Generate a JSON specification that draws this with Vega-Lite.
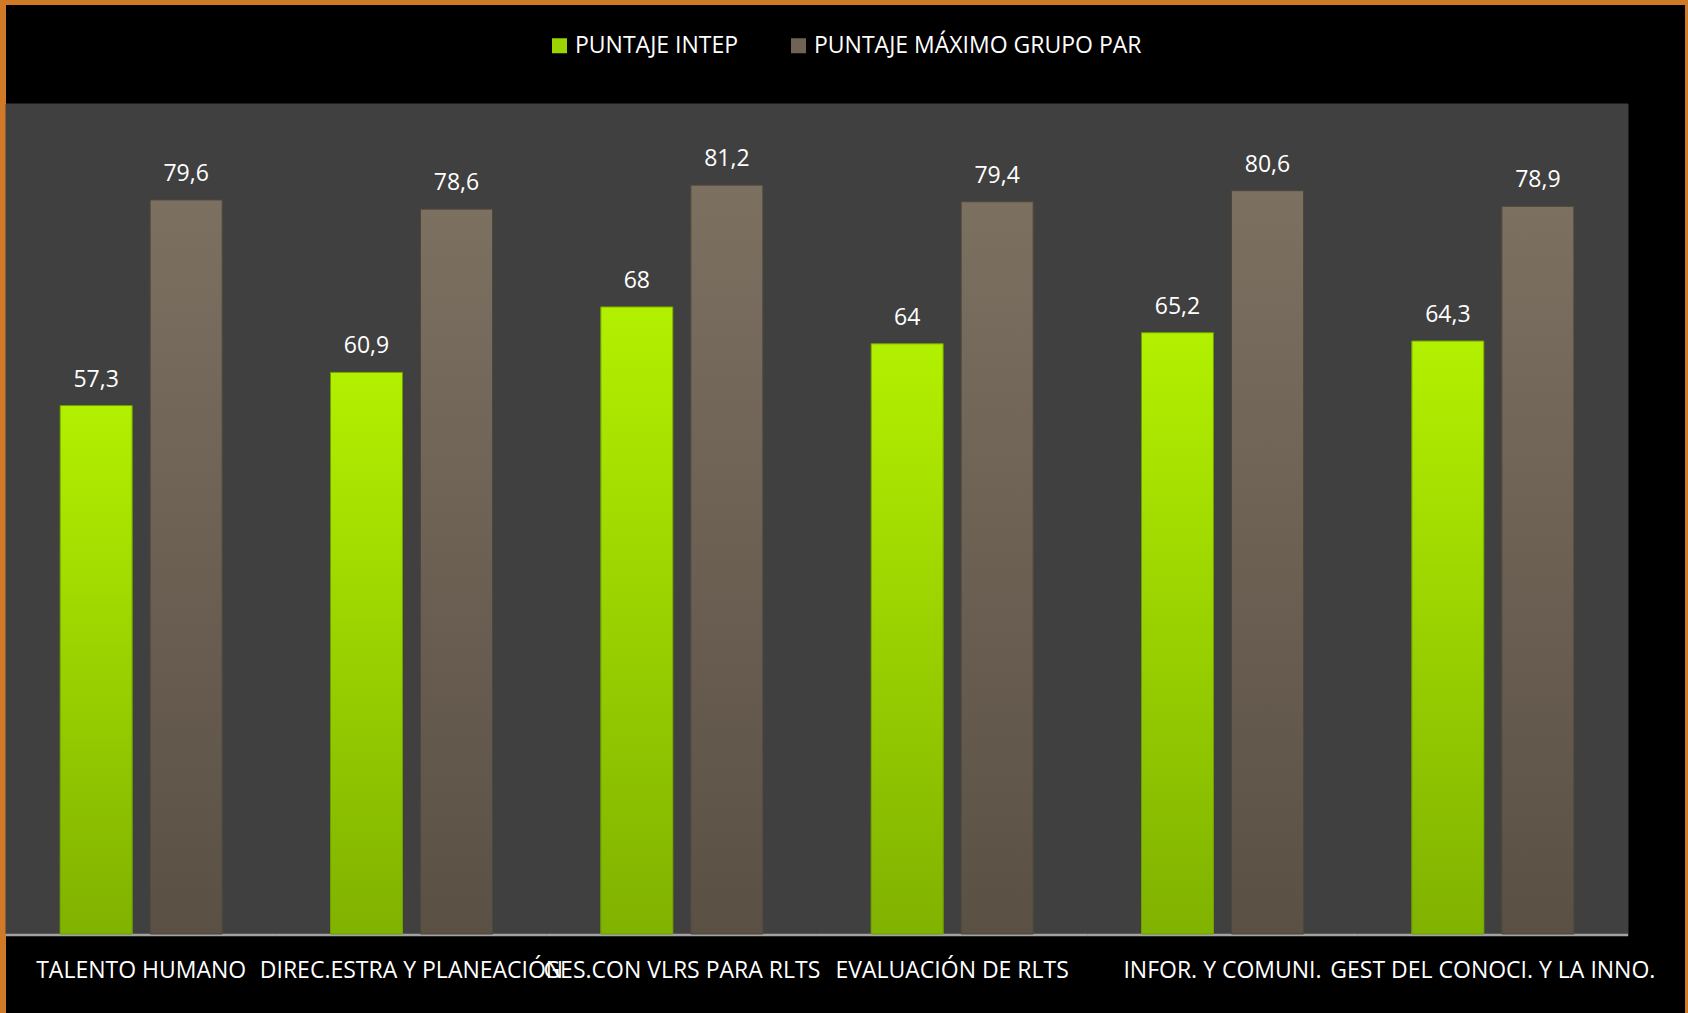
{
  "$schema": "https://vega.github.io/schema/vega-lite/v6.json",
  "width": 1679,
  "height": 1008,
  "autosize": {"type": "none"},
  "padding": {"left": 6, "top": 5, "right": 3, "bottom": 0},
  "background": "#d07a28",
  "config": {
    "view": {"fill": "#000000", "stroke": null},
    "font": "Open Sans",
    "locale": {"number": {"decimal": ",", "thousands": ".", "grouping": [3], "currency": ["", " €"]}}
  },
  "data": {
    "values": [
      {"categoria": "TALENTO HUMANO", "serie": "PUNTAJE INTEP", "valor": 57.3},
      {"categoria": "TALENTO HUMANO", "serie": "PUNTAJE MÁXIMO GRUPO PAR", "valor": 79.6},
      {"categoria": "DIREC.ESTRA Y PLANEACIÓN", "serie": "PUNTAJE INTEP", "valor": 60.9},
      {"categoria": "DIREC.ESTRA Y PLANEACIÓN", "serie": "PUNTAJE MÁXIMO GRUPO PAR", "valor": 78.6},
      {"categoria": "GES.CON VLRS PARA RLTS", "serie": "PUNTAJE INTEP", "valor": 68},
      {"categoria": "GES.CON VLRS PARA RLTS", "serie": "PUNTAJE MÁXIMO GRUPO PAR", "valor": 81.2},
      {"categoria": "EVALUACIÓN DE RLTS", "serie": "PUNTAJE INTEP", "valor": 64},
      {"categoria": "EVALUACIÓN DE RLTS", "serie": "PUNTAJE MÁXIMO GRUPO PAR", "valor": 79.4},
      {"categoria": "INFOR. Y COMUNI.", "serie": "PUNTAJE INTEP", "valor": 65.2},
      {"categoria": "INFOR. Y COMUNI.", "serie": "PUNTAJE MÁXIMO GRUPO PAR", "valor": 80.6},
      {"categoria": "GEST DEL CONOCI. Y LA INNO.", "serie": "PUNTAJE INTEP", "valor": 64.3},
      {"categoria": "GEST DEL CONOCI. Y LA INNO.", "serie": "PUNTAJE MÁXIMO GRUPO PAR", "valor": 78.9}
    ]
  },
  "encoding": {
    "x": {
      "field": "categoria",
      "type": "nominal",
      "sort": null,
      "scale": {"paddingInner": 0, "paddingOuter": 0.10543, "align": 0, "round": false},
      "axis": {
        "title": null,
        "orient": "bottom",
        "offset": -43,
        "domain": false,
        "ticks": false,
        "grid": false,
        "labelPadding": 0,
        "labelBaseline": "middle",
        "labelAngle": 0,
        "labelColor": "#ffffff",
        "labelFont": "Open Sans",
        "labelFontSize": 23,
        "labelOverlap": false,
        "labelLimit": 600
      }
    }
  },
  "layer": [
    {
      "transform": [{"filter": "datum.serie === 'PUNTAJE INTEP'"}],
      "mark": {"type": "rect", "color": "#404040", "stroke": "#404040", "strokeWidth": 1},
      "encoding": {
        "y": {"datum": 0, "type": "quantitative", "scale": {"domain": [-8.566, 100.735], "nice": false, "zero": false}, "axis": null},
        "y2": {"datum": 90}
      }
    },
    {
      "transform": [{"filter": "datum.serie === 'PUNTAJE INTEP'"}],
      "mark": {"type": "rect", "color": "#a3a3a3", "stroke": "#a3a3a3", "strokeWidth": 0.5},
      "encoding": {
        "y": {"datum": 0, "type": "quantitative", "scale": {"domain": [-8.566, 100.735], "nice": false, "zero": false}, "axis": null},
        "y2": {"datum": -0.22}
      }
    },
    {
      "mark": {"type": "bar"},
      "encoding": {
        "y": {"field": "valor", "type": "quantitative", "scale": {"domain": [-8.566, 100.735], "nice": false, "zero": false}, "axis": null},
        "xOffset": {"field": "serie", "type": "nominal", "scale": {"domain": ["PUNTAJE INTEP", "PUNTAJE MÁXIMO GRUPO PAR"], "paddingInner": 0.2, "paddingOuter": 0.6018}},
        "color": {
          "field": "serie",
          "type": "nominal",
          "scale": {"domain": ["PUNTAJE INTEP", "PUNTAJE MÁXIMO GRUPO PAR"], "range": ["#9bd400", "#6e6354"]},
          "legend": {
            "title": null,
            "orient": "none",
            "legendX": 542,
            "legendY": 29,
            "direction": "horizontal",
            "padding": 0,
            "symbolType": "square",
            "symbolSize": 225,
            "symbolStrokeWidth": 0,
            "labelColor": "#ffffff",
            "labelFont": "Open Sans",
            "labelFontSize": 23,
            "labelOffset": 4,
            "columnPadding": 48,
            "labelLimit": 600
          }
        }
      }
    },
    {
      "transform": [{"filter": "datum.serie === 'PUNTAJE INTEP'"}],
      "mark": {
        "type": "bar",
        "stroke": "#6f9e00",
        "strokeWidth": 1,
        "fill": {"gradient": "linear", "x1": 0, "y1": 0, "x2": 0, "y2": 1, "stops": [{"offset": 0, "color": "#b2f000"}, {"offset": 1, "color": "#80b200"}]}
      },
      "encoding": {
        "y": {"field": "valor", "type": "quantitative", "scale": {"domain": [-8.566, 100.735], "nice": false, "zero": false}, "axis": null},
        "xOffset": {"field": "serie", "type": "nominal", "scale": {"domain": ["PUNTAJE INTEP", "PUNTAJE MÁXIMO GRUPO PAR"], "paddingInner": 0.2, "paddingOuter": 0.6018}}
      }
    },
    {
      "transform": [{"filter": "datum.serie === 'PUNTAJE MÁXIMO GRUPO PAR'"}],
      "mark": {
        "type": "bar",
        "stroke": "#4e463b",
        "strokeWidth": 1,
        "fill": {"gradient": "linear", "x1": 0, "y1": 0, "x2": 0, "y2": 1, "stops": [{"offset": 0, "color": "#7c7061"}, {"offset": 1, "color": "#5a5044"}]}
      },
      "encoding": {
        "y": {"field": "valor", "type": "quantitative", "scale": {"domain": [-8.566, 100.735], "nice": false, "zero": false}, "axis": null},
        "xOffset": {"field": "serie", "type": "nominal", "scale": {"domain": ["PUNTAJE INTEP", "PUNTAJE MÁXIMO GRUPO PAR"], "paddingInner": 0.2, "paddingOuter": 0.6018}}
      }
    },
    {
      "mark": {"type": "text", "color": "#ffffff", "fontSize": 23, "font": "Open Sans", "dy": -19, "baseline": "alphabetic", "align": "center"},
      "encoding": {
        "y": {"field": "valor", "type": "quantitative", "scale": {"domain": [-8.566, 100.735], "nice": false, "zero": false}, "axis": null},
        "xOffset": {"field": "serie", "type": "nominal", "scale": {"domain": ["PUNTAJE INTEP", "PUNTAJE MÁXIMO GRUPO PAR"], "paddingInner": 0.2, "paddingOuter": 0.6018}},
        "text": {"field": "valor", "type": "quantitative", "format": ".1~f"}
      }
    }
  ]
}
